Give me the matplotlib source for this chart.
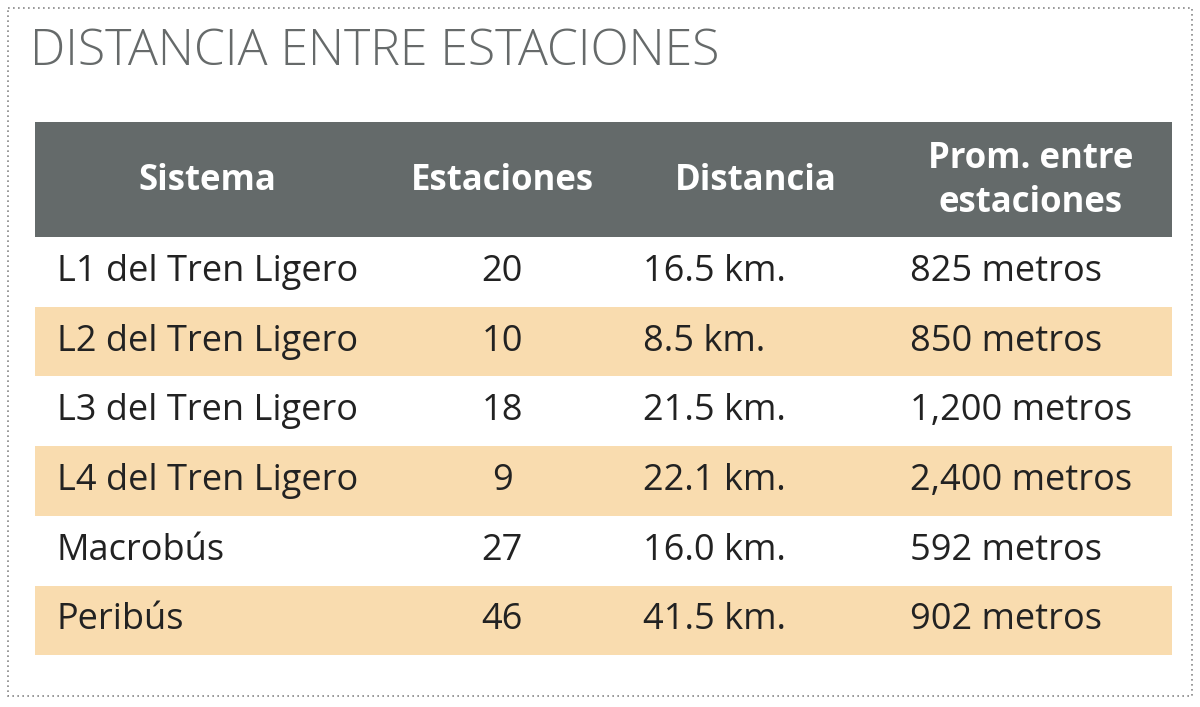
import matplotlib
matplotlib.use("Agg")
import matplotlib.pyplot as plt
from matplotlib.patches import Rectangle

title = "DISTANCIA ENTRE ESTACIONES"
headers = ["Sistema", "Estaciones", "Distancia", "Prom. entre\nestaciones"]
sistemas = ["L1 del Tren Ligero", "L2 del Tren Ligero", "L3 del Tren Ligero",
            "L4 del Tren Ligero", "Macrobús", "Peribús"]
estaciones = ["20", "10", "18", "9", "27", "46"]
distancia = ["16.5 km.", "8.5 km.", "21.5 km.", "22.1 km.", "16.0 km.", "41.5 km."]
promedio = ["825 metros", "850 metros", "1,200 metros", "2,400 metros", "592 metros", "902 metros"]

W, H = 1200, 707
fig = plt.figure(figsize=(12, 7.07), dpi=100)
ax = fig.add_axes([0, 0, 1, 1])
ax.set_xlim(0, W); ax.set_ylim(H, 0); ax.axis("off")

ax.add_patch(Rectangle((8, 8), 1184, 688, fill=False, ec="#888888", lw=1.2, ls=(0, (1, 2))))
ax.text(30, 52, title, fontsize=36, color="#666a6a", va="center", ha="left",
        family="Open Sans", fontweight="light")

x0, x1 = 35, 1172
ax.add_patch(Rectangle((x0, 122), x1 - x0, 115, color="#646a6a", lw=0))
hx = [207, 502, 756, 1031]
for h, x in zip(headers, hx):
    ax.text(x, 181, h, ha="center", va="center", color="white", fontsize=25,
            fontweight="bold", family="Open Sans", linespacing=1.3)

top, rh = 237, 69.7
for i in range(len(sistemas)):
    y = top + i * rh
    if i % 2 == 1:
        ax.add_patch(Rectangle((x0, y), x1 - x0, rh, color="#f9dcaf", lw=0))
    yc = y + rh / 2
    kw = dict(va="center", fontsize=26, color="#222222", family="Open Sans")
    ax.text(57, yc, sistemas[i], ha="left", **kw)
    ax.text(502, yc, estaciones[i], ha="center", **kw)
    ax.text(643, yc, distancia[i], ha="left", **kw)
    ax.text(910, yc, promedio[i], ha="left", **kw)

fig.savefig("out.png", dpi=100)
